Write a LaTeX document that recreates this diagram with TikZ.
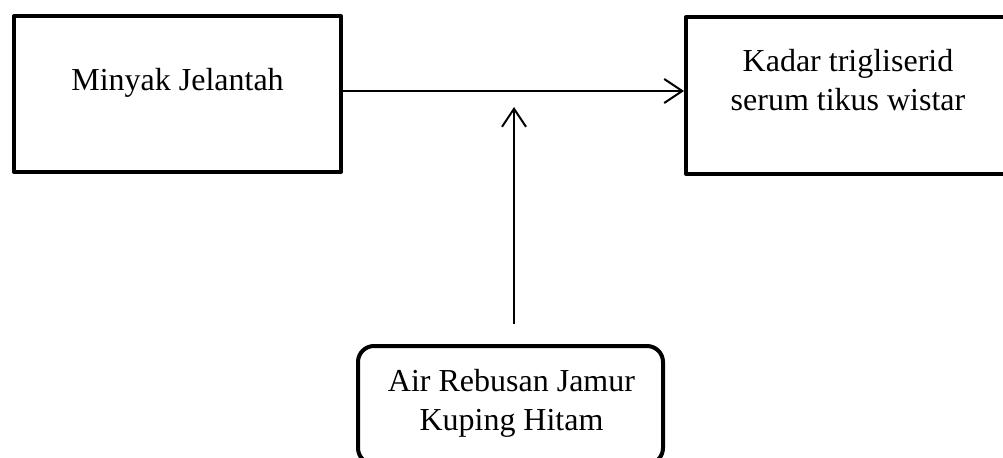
\documentclass[tikz,border=0pt]{standalone}
\usepackage{fontspec}
\setmainfont{Liberation Serif}
\usetikzlibrary{arrows.meta}
\begin{document}
\begin{tikzpicture}[x=0.75pt,y=-0.75pt,line join=round,
    font=\fontsize{24}{29}\selectfont,
    kotak/.style={draw,line width=3pt,inner sep=0pt},
    teks/.style={align=center,inner sep=0pt},
    panah/.style={line width=1.5pt,-{Straight Barb[length=13.5pt,width=18pt,line width=1.5pt]}}]
    \useasboundingbox (0,0) rectangle (1003,457);
    % kotak
    \node[kotak,minimum width=245.25pt,minimum height=117pt] (mj) at (177.5,94) {};
    \node[kotak,minimum width=243pt,minimum height=117.75pt] (kt) at (848,95.5) {};
    \node[kotak,rounded corners=12pt,minimum width=228.75pt,minimum height=88.5pt] (air) at (510.5,405) {};
    % teks
    \node[teks,anchor=base] (tmj) at (177.5,90) {Minyak Jelantah};
    \node[teks] (tkt) at (848,80) {Kadar trigliserid\\serum tikus wistar};
    \node[teks] (tair) at (511.5,403.5) {Air Rebusan Jamur\\Kuping Hitam};
    % panah
    \path
    (0,91) coordinate (garis)
    (514,324) coordinate (pangkal)
    (514,107) coordinate (ujung)
    ;
    \draw[panah] (mj.east |- garis)--(kt.west |- garis);
    \draw[panah] (pangkal)--(ujung);
\end{tikzpicture}
\end{document}
